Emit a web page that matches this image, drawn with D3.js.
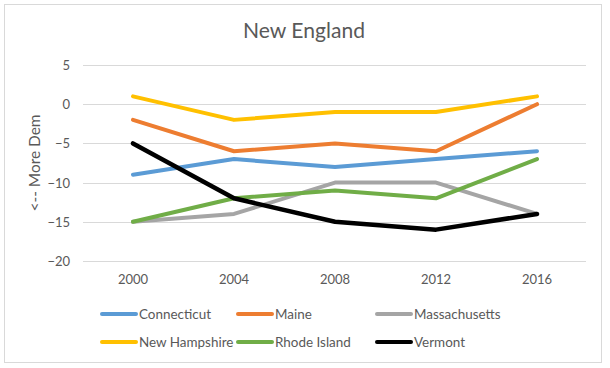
<!DOCTYPE html>
<html>
<head>
<meta charset="utf-8">
<script src="https://cdn.jsdelivr.net/npm/d3@7"></script>
<style>
  html, body { margin: 0; padding: 0; background: #fff; }
  svg { display: block; }
  text { font-family: Lato, "Open Sans", sans-serif; fill: #595959; }
</style>
</head>
<body>
<script>
const years = ["2000", "2004", "2008", "2012", "2016"];
const yTicks = [5, 0, -5, -10, -15, -20];
const seriesNames = ["Connecticut", "Maine", "Massachusetts", "New Hampshire", "Rhode Island", "Vermont"];
const connecticut   = [-9, -7, -8, -7, -6];
const maine         = [-2, -6, -5, -6, 0];
const massachusetts = [-15, -14, -10, -10, -14];
const newHampshire  = [1, -2, -1, -1, 1];
const rhodeIsland   = [-15, -12, -11, -12, -7];
const vermont       = [-5, -12, -15, -16, -14];
const colors = ["#5B9BD5", "#ED7D31", "#A5A5A5", "#FFC000", "#70AD47", "#000000"];
const title = "New England";
const yTitle = "<-- More Dem";

const seriesValues = [connecticut, maine, massachusetts, newHampshire, rhodeIsland, vermont];

const W = 610, H = 368;
const svg = d3.select("body").append("svg").attr("width", W).attr("height", H);
svg.append("rect").attr("width", W).attr("height", H).attr("fill", "#fff");
svg.append("rect").attr("x", 4.5).attr("y", 4.5).attr("width", 597).attr("height", 358)
  .attr("fill", "none").attr("stroke", "#d9d9d9").attr("stroke-width", 1);

function fit(sel, target) {
  const w = sel.node().getComputedTextLength();
  const fs = parseFloat(sel.attr("font-size"));
  sel.attr("font-size", (fs * target / w).toFixed(2));
}

const x = d3.scaleBand().domain(years).range([82.5, 587.5]).padding(0);
const y = d3.scaleLinear().domain([-20, 5]).range([261, 65]);
const cx = d => x(d) + x.bandwidth() / 2;

// gridlines
svg.append("g").selectAll("line").data(yTicks).join("line")
  .attr("x1", 83).attr("x2", 586)
  .attr("y1", d => Math.round(y(d)) + 0.5).attr("y2", d => Math.round(y(d)) + 0.5)
  .attr("stroke", "#d9d9d9").attr("stroke-width", 1);

// y axis labels
const yAxis = d3.axisLeft(y).tickValues(yTicks).tickSize(0).tickPadding(0);
const gy = svg.append("g").attr("transform", "translate(70,0)").call(yAxis);
gy.select(".domain").remove();
gy.selectAll("text").attr("font-size", 13).attr("fill", "#595959")
  .style("font-family", "Lato, sans-serif").attr("dy", "0.35em");

// x axis labels
const xAxis = d3.axisBottom(x).tickSize(0).tickPadding(0);
const gx = svg.append("g").attr("transform", "translate(0,275)").call(xAxis);
gx.select(".domain").remove();
gx.selectAll("text").attr("font-size", 13).attr("fill", "#595959")
  .style("font-family", "Lato, sans-serif").attr("dy", "0.71em");

// lines
const line = d3.line().x((d, i) => cx(years[i])).y(d => y(d));
svg.append("g").selectAll("path").data(seriesValues).join("path")
  .attr("d", d => line(d))
  .attr("fill", "none")
  .attr("stroke", (d, i) => colors[i])
  .attr("stroke-width", (d, i) => i === 5 ? 4.5 : 4)
  .attr("stroke-linejoin", "round")
  .attr("stroke-linecap", "round");

// title
const t = svg.append("text").attr("x", 304).attr("y", 38).attr("text-anchor", "middle")
  .attr("font-size", 20).text(title);
fit(t, 122);

// y title
const yt = svg.append("text").attr("transform", "translate(40,163) rotate(-90)")
  .attr("text-anchor", "middle").attr("font-size", 13).text(yTitle);
fit(yt, 97);

// legend
const colX = [102, 238, 377];
const rowY = [314, 342];
const lg = svg.append("g");
seriesNames.forEach((name, i) => {
  const lx = colX[i % 3], ly = rowY[Math.floor(i / 3)];
  lg.append("line").attr("x1", lx).attr("x2", lx + 34).attr("y1", ly).attr("y2", ly)
    .attr("stroke", colors[i]).attr("stroke-width", 4).attr("stroke-linecap", "round");
  lg.append("text").attr("class", "lt").attr("x", lx + 37).attr("y", ly).attr("dy", "0.35em")
    .attr("font-size", 13).text(name);
});
const lt0 = lg.select(".lt");
const w0 = lt0.node().getComputedTextLength();
const lfs = 13 * 72 / w0;
lg.selectAll(".lt").attr("font-size", lfs.toFixed(2));
</script>
</body>
</html>
